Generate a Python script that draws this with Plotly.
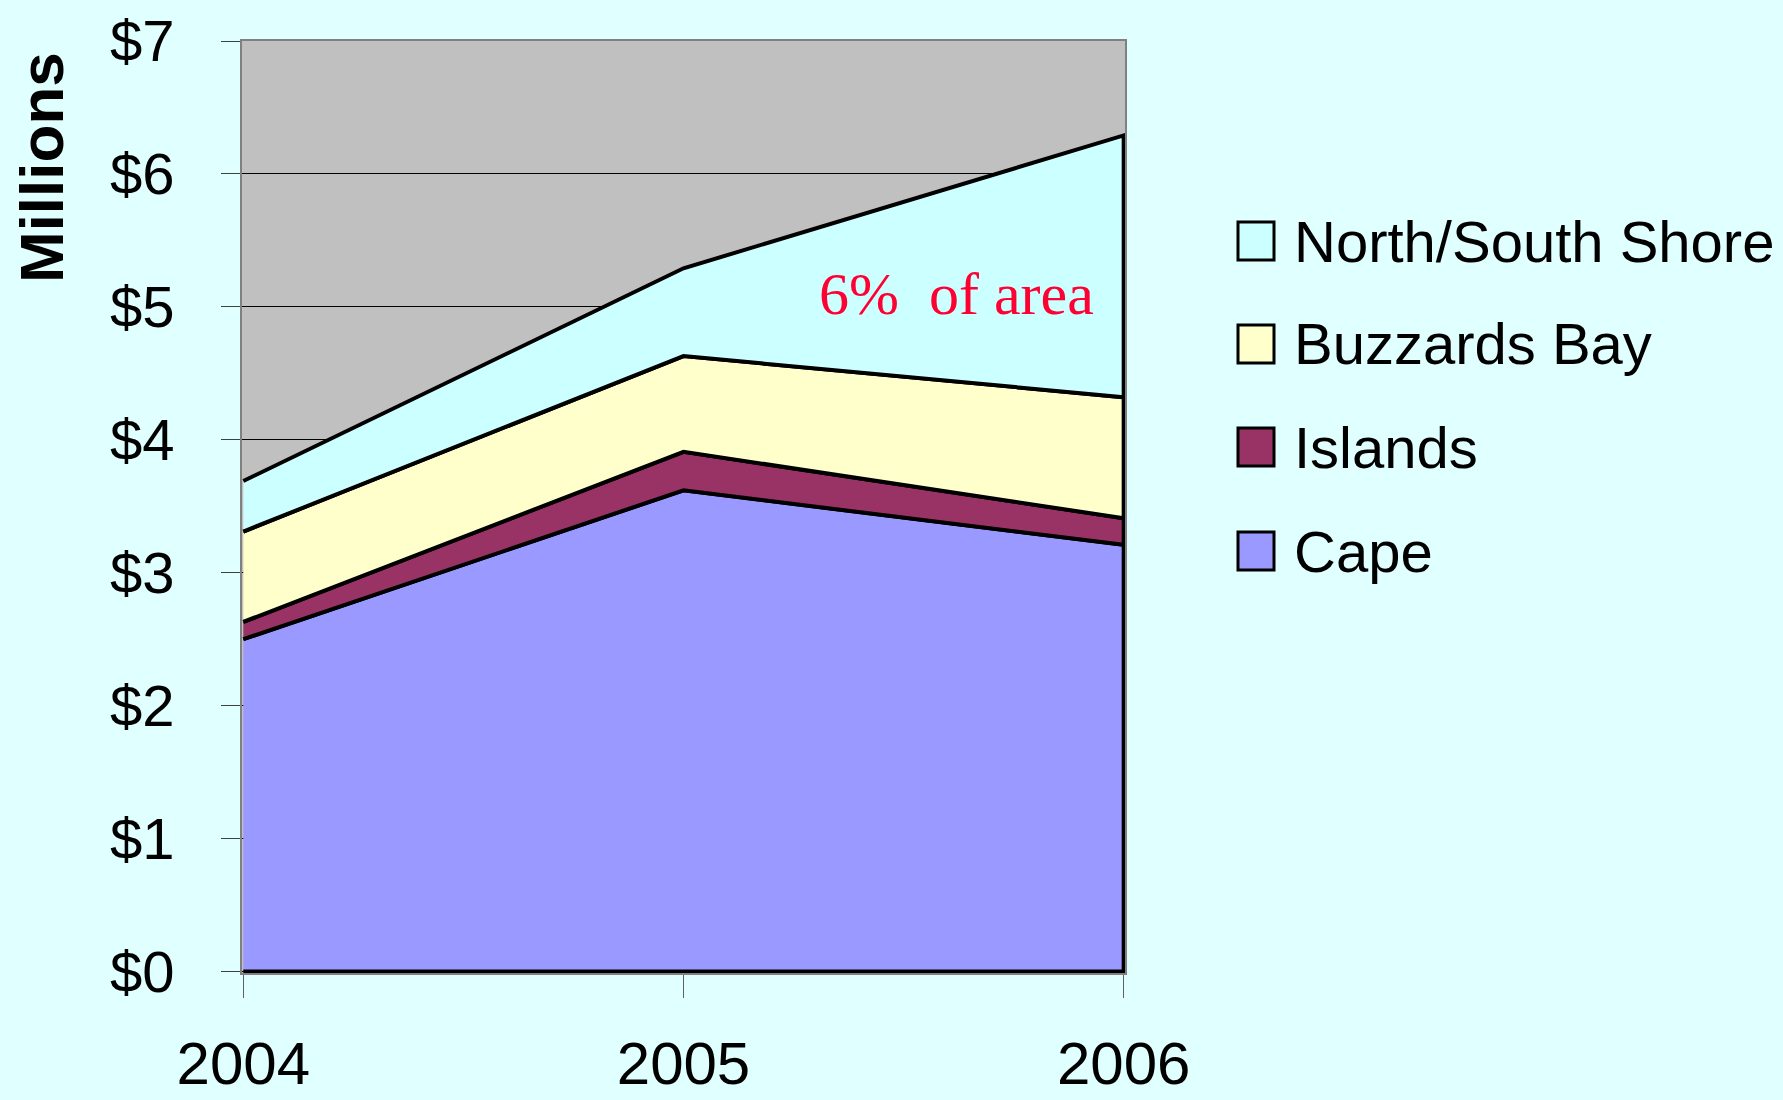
import plotly.graph_objects as go
import numpy as np

years = [2004, 2005, 2006]
series_names = ["Cape", "Islands", "Buzzards Bay", "North/South Shore"]
cape = [2.50, 3.62, 3.21]
islands = [0.13, 0.29, 0.20]
buzzards = [0.68, 0.72, 0.91]
north_south = [0.38, 0.66, 1.97]
series_values = [cape, islands, buzzards, north_south]
series_colors = ["#9999FF", "#993366", "#FFFFCC", "#CCFFFF"]
y_tick_vals = [0, 1, 2, 3, 4, 5, 6, 7]
y_tick_text = ["$0", "$1", "$2", "$3", "$4", "$5", "$6", "$7"]
note_text = "6%\u00a0 of area"

FONT = "Liberation Sans, Arial, sans-serif"

fig = go.Figure()
bottom = np.zeros(len(years))
for name, vals, col in zip(series_names, series_values, series_colors):
    top = bottom + np.array(vals)
    xs = list(years) + list(years[::-1])
    ys = list(top) + list(bottom[::-1])
    fig.add_trace(go.Scatter(
        x=xs, y=ys, fill="toself", fillcolor=col, mode="lines",
        line=dict(color="black", width=4), name=name, showlegend=False,
        hoverinfo="skip"))
    bottom = top

# Manual legend (top to bottom: reverse stacking order)
L, R, T, B = 242, 658, 41, 127
W, H = 1783, 1100
PW, PH = W - L - R, H - T - B
leg_x0 = 1238
leg_box_w = 36
leg_box_h = 38
leg_y_centers = [241, 344, 447, 551]
for i, (name, col) in enumerate(zip(series_names[::-1], series_colors[::-1])):
    yc = leg_y_centers[i]
    fig.add_shape(type="rect", xref="paper", yref="paper",
                  x0=(leg_x0 - L) / PW, x1=(leg_x0 + leg_box_w - L) / PW,
                  y0=(H - B - (yc + leg_box_h / 2)) / PH,
                  y1=(H - B - (yc - leg_box_h / 2)) / PH,
                  fillcolor=col, line=dict(color="black", width=3))
    fig.add_annotation(xref="paper", yref="paper",
                       x=(1292 - L) / PW, y=(H - B - yc) / PH,
                       xanchor="left", yanchor="middle", showarrow=False,
                       text=name, font=dict(family=FONT, size=58, color="black"))

fig.add_annotation(x=2005.62, y=5.10, text=note_text, showarrow=False,
                   xanchor="center", yanchor="middle",
                   font=dict(family="Liberation Serif, Times New Roman, serif", size=60, color="#FF0033"))

fig.add_annotation(xref="paper", yref="paper", x=(41 - L) / PW, y=(H - B - 168) / PH,
                   text="<b>Millions</b>", textangle=-90, showarrow=False,
                   xanchor="center", yanchor="middle",
                   font=dict(family=FONT, size=62, color="black"))

fig.update_layout(
    width=W, height=H,
    margin=dict(l=L, r=R, t=T, b=B, autoexpand=False),
    paper_bgcolor="#E0FFFF", plot_bgcolor="#C0C0C0",
    showlegend=False,
)
fig.update_xaxes(
    range=[2003.997, 2006.003], tickvals=years, ticktext=[str(y) for y in years],
    ticks="outside", ticklen=23, tickcolor="#606060", tickwidth=1,
    showgrid=False, zeroline=False, showline=True, linecolor="#808080", linewidth=2,
    mirror=True, layer="below traces", ticklabelstandoff=14, automargin=False,
    tickfont=dict(family=FONT, size=60, color="black"),
)
fig.update_yaxes(
    range=[-0.011, 7], tickvals=y_tick_vals, ticktext=y_tick_text,
    ticks="outside", ticklen=19, tickcolor="#404040", tickwidth=1,
    showgrid=True, gridcolor="black", gridwidth=1, zeroline=False,
    showline=True, linecolor="#808080", linewidth=2, mirror=True,
    layer="below traces", ticklabelstandoff=35, automargin=False,
    tickfont=dict(family=FONT, size=58, color="black"),
)
fig.write_html("out.html", config={"displayModeBar": False},
               post_script="document.body.style.margin='0';document.body.style.background='#E0FFFF';")
